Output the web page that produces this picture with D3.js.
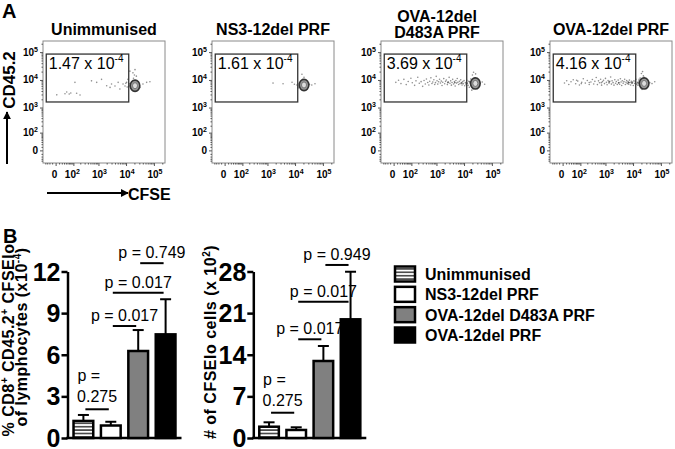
<!DOCTYPE html>
<html>
<head>
<meta charset="utf-8">
<script src="https://cdn.jsdelivr.net/npm/d3@7"></script>
<style>
  body { margin: 0; background: #fff; }
  text { font-family: "Liberation Sans", Arial, sans-serif; }
</style>
</head>
<body>
<svg id="fig" width="675" height="449"></svg>
<script>
// ---- data ----
var groups = ["Unimmunised", "NS3-12del PRF", "OVA-12del D483A PRF", "OVA-12del PRF"];
var panelTitles = [["Unimmunised"], ["NS3-12del PRF"], ["OVA-12del", "D483A PRF"], ["OVA-12del PRF"]];
var gateFreq = ["1.47", "1.61", "3.69", "4.16"];
var gateX = [-35, 12500];
var gateY = [1600, 85000];
var flowTicks = [0, 100, 1000, 10000, 100000];
var clusterCentres = [[21000, 6200], [21000, 6600], [25500, 7500], [25000, 7500]];

var eventsUnimm = [[3,2900],[35,3200],[45,3700],[62,3100],[75,3400],[140,3300],[195,2860],[118,8200],[550,9300],[860,8200],
  [1300,10500],[2000,6200],[2650,5400],[3000,7200],[4000,6100],[5200,8200],[6000,4700],[7800,7200],[9200,6100],[10500,8200],
  [11700,10500],[13800,20700],[17700,18000],[21000,23500],[23500,13700],[31500,5400],[40500,7200],[55000,8200],[72000,8600],
  [15000,5000],[17000,7000],[14000,6500],[19000,5500],[24000,8500],[28000,6000],[16000,8000],[12500,5800],[26000,4900],
  [22000,9500],[18500,11500],[20000,15000],[13000,7400],[11000,5600],[9800,7600]];
var eventsNS3 = [[1600,7700],[3700,7300],[7800,8300],[11700,6600],[40000,6600],[52000,7300],[17700,16000],[19000,10500],
  [14000,6000],[16000,7500],[26000,5600],[29000,8000],[13000,5200],[24000,9200],[33000,6900],[9500,7000],[21000,12500]];
var eventsD483A = [[6,8200],[15,9800],[25,7400],[40,10500],[55,6800],[70,8800],[95,11500],[110,7900],[140,6400],[160,9300],
  [190,12500],[220,7600],[260,8700],[300,5900],[340,9600],[380,7200],[420,10800],[470,8100],[520,6600],[560,9000],
  [620,11900],[680,7500],[730,8500],[800,10200],[860,6900],[920,8000],[980,13500],[1050,9400],[1120,7100],[1200,8600],
  [1300,10600],[1400,7800],[1500,9100],[1600,6300],[1700,8300],[1850,11200],[2000,7300],[2150,8900],[2300,10000],[2500,6800],
  [2700,8400],[2900,12400],[3100,7600],[3300,9300],[3500,6500],[3700,8100],[3900,10500],[4200,7200],[4500,8800],[4800,6100],
  [5100,9600],[5400,7700],[5700,11300],[6000,8300],[6400,6900],[6800,9000],[7200,7400],[7600,10100],[8000,8000],[8500,6600],
  [9000,8700],[9500,7300],[10000,9500],[10600,6200],[11200,8100],[11800,7000],[12500,9800],[13200,7600],[14000,6400],[14800,8900],
  [15500,5500],[16500,7800],[17500,10800],[18500,6800],[20000,15000],[22000,19000],[24000,12000],[27000,5200],[30000,9000],
  [33000,6500],[38000,7800],[45000,8500],[55000,7000],[19000,4300],[26000,16500],[21000,4800],[4600,7900],[4700,8100],
  [8300,7800],[8400,7600],[12000,7500],[12300,7700],[2600,8000],[2650,8200],[16000,8400],[16200,8600]];
var eventsOVA = [[5,7800],[12,9400],[20,6900],[30,8600],[42,10200],[58,7300],[75,9100],[90,6600],[115,8300],[135,11000],
  [165,7700],[200,9600],[240,6900],[280,8400],[320,10400],[360,7200],[400,8900],[450,12200],[500,6800],[550,9300],
  [600,7900],[660,10600],[720,6500],[780,8700],[850,9800],[920,7400],[1000,11400],[1080,8200],[1150,6700],[1250,9500],
  [1350,7700],[1450,8900],[1550,12800],[1650,7100],[1750,9300],[1900,8000],[2050,6500],[2200,10200],[2350,7600],[2500,8800],
  [2700,6900],[2900,9900],[3100,8100],[3300,7000],[3500,11000],[3700,8500],[3900,6300],[4100,9400],[4400,7600],[4700,8700],
  [5000,10600],[5300,6900],[5600,8200],[5900,9600],[6200,7400],[6600,8800],[7000,7000],[7400,9900],[7800,8100],[8200,6600],
  [8700,9000],[9200,7700],[9700,8500],[10200,6300],[10800,9300],[11400,7500],[12000,8600],[12700,10500],[13400,7100],[14200,8300],
  [15000,6500],[16000,9200],[17000,7600],[18000,11800],[19000,6800],[20000,17000],[22000,20000],[23500,14000],[27000,5300],
  [30000,9500],[34000,6600],[40000,8000],[48000,7400],[60000,8600],[21000,4600],[25000,12500],[18500,5200],[16500,10500],
  [6900,8000],[7100,8100],[6800,7900],[3000,7800],[3050,7900],[1350,8600],[1380,8400],[700,8000],[240,8100],[110,7400],
  [65,9800],[15000,7700],[15300,7900],[9000,8000],[9300,7800]];
var flowEvents = [eventsUnimm, eventsNS3, eventsD483A, eventsOVA];

var pctMean = [1.23, 0.9, 6.27, 7.47];
var pctSem = [0.43, 0.27, 1.51, 2.53];
var pctTicks = [0, 3, 6, 9, 12];
var cellMean = [1.9, 1.35, 12.95, 19.96];
var cellSem = [0.74, 0.45, 2.52, 8.0];
var cellTicks = [0, 7, 14, 21, 28];
var compPairs = [[0, 1], [1, 2], [1, 3], [2, 3]];
var pctCompP = ["0.275", "0.017", "0.017", "0.749"];
var pctCompLevel = [2.07, 8.07, 10.47, 12.6];
var cellCompP = ["0.275", "0.017", "0.017", "0.949"];
var cellCompLevel = [4.25, 16.6, 22.9, 29.1];
var barFills = ["url(#hatch)", "#fff", "#808080", "#000"];

// ---- setup ----
var svg = d3.select("#fig");
var defs = svg.append("defs");
var pat = defs.append("pattern").attr("id", "hatch")
  .attr("patternUnits", "userSpaceOnUse").attr("width", 6).attr("height", 3.4);
pat.append("rect").attr("width", 6).attr("height", 3.4).attr("fill", "#fff");
pat.append("line").attr("x1", 0).attr("x2", 6).attr("y1", 1.7).attr("y2", 1.7)
  .attr("stroke", "#000").attr("stroke-width", 1.2);
var arrow = defs.append("marker").attr("id", "arr").attr("viewBox", "0 0 10 10")
  .attr("refX", 9).attr("refY", 5).attr("markerWidth", 4).attr("markerHeight", 4).attr("orient", "auto");
arrow.append("path").attr("d", "M0,0L10,5L0,10z").attr("fill", "#000");

// ---- panel A: flow plots ----
var size = 122;
var panelX = d3.scalePoint().domain(groups).range([43, 550]);
var fx = d3.scaleSymlog().constant(30).domain([-55, 250000]).range([0, size]);
var fy = d3.scaleSymlog().constant(30).domain([-55, 250000]).range([size, 0]);
var minorTicks = [];
[100, 1000, 10000].forEach(function(b) { for (var m = 2; m < 10; m++) minorTicks.push(b * m); });
[-40, -30, -20, -10, 10, 20, 30, 40, 50, 60, 70, 80, 90, 200000].forEach(function(v) { minorTicks.push(v); });

function powText(t, v) {
  if (v === 0) { t.text("0"); return; }
  t.append("tspan").text("10");
  t.append("tspan").attr("dy", -4).attr("font-size", 7).text(Math.round(Math.log10(v)));
}

svg.append("text").attr("x", 2).attr("y", 18).attr("font-size", 20).attr("font-weight", "bold").text("A");

groups.forEach(function(name, i) {
  var g = svg.append("g").attr("transform", "translate(" + panelX(name) + ",41)");

  var title = g.append("text").attr("text-anchor", "middle").attr("font-size", 16).attr("font-weight", "bold");
  var lines = panelTitles[i];
  lines.forEach(function(l, k) {
    title.append("tspan").attr("x", size / 2 - (lines.length > 1 ? 5 : 0))
      .attr("y", lines.length > 1 ? -19 + k * 16 : -6).text(l);
  });

  g.append("rect").attr("width", size).attr("height", size).attr("fill", "none").attr("stroke", "#8a8a8a");

  [fy, fx].forEach(function(sc, a) {
    var shift = a === 0 ? null : "translate(0," + size + ")";
    var major = g.append("g").attr("transform", shift)
      .call((a === 0 ? d3.axisLeft(sc) : d3.axisBottom(sc)).tickValues(flowTicks).tickSize(3).tickFormat(""));
    var minor = g.append("g").attr("transform", shift)
      .call((a === 0 ? d3.axisLeft(sc) : d3.axisBottom(sc)).tickValues(minorTicks).tickSize(1.5).tickFormat(""));
    [major, minor].forEach(function(s) {
      s.select(".domain").remove();
      s.selectAll("line").attr("stroke", "#555");
    });
  });

  flowTicks.forEach(function(v) {
    var ty = g.append("text").attr("x", -5).attr("y", fy(v) + 3.5).attr("text-anchor", "end")
      .attr("font-size", 10).attr("font-weight", "bold");
    powText(ty, v);
    var tx = g.append("text").attr("x", fx(v) + (v === 100 ? -1 : (v === 0 ? -1 : 1))).attr("y", size + 15)
      .attr("text-anchor", "middle").attr("font-size", 10).attr("font-weight", "bold");
    powText(tx, v);
  });

  g.selectAll("circle.ev").data(flowEvents[i]).join("circle").attr("class", "ev")
    .attr("cx", function(d) { return fx(d[0]); })
    .attr("cy", function(d) { return fy(d[1]); })
    .attr("r", 0.8).attr("fill", "#444").attr("opacity", 0.6);

  var c = clusterCentres[i];
  g.append("ellipse").attr("cx", fx(c[0])).attr("cy", fy(c[1])).attr("rx", 4.8).attr("ry", 5.6)
    .attr("fill", "#999").attr("stroke", "#333").attr("stroke-width", 1.6);
  g.append("ellipse").attr("cx", fx(c[0])).attr("cy", fy(c[1])).attr("rx", 2.5).attr("ry", 3)
    .attr("fill", "#ddd").attr("stroke", "#666").attr("stroke-width", 0.8);

  g.append("rect").attr("x", fx(gateX[0])).attr("y", fy(gateY[1]))
    .attr("width", fx(gateX[1]) - fx(gateX[0])).attr("height", fy(gateY[0]) - fy(gateY[1]))
    .attr("fill", "none").attr("stroke", "#333").attr("stroke-width", 1.3);
  var gl = g.append("text").attr("x", fx(gateX[0]) + 2.5).attr("y", fy(gateY[1]) + 15).attr("font-size", 16);
  gl.append("tspan").text(gateFreq[i] + " x 10");
  gl.append("tspan").attr("dy", -7).attr("font-size", 10).text("-4");
});

// flow axis titles
svg.append("text").attr("transform", "translate(14.5,80) rotate(-90)").attr("text-anchor", "middle")
  .attr("font-size", 17).attr("font-weight", "bold").text("CD45.2");
svg.append("line").attr("x1", 7).attr("x2", 7).attr("y1", 164).attr("y2", 112)
  .attr("stroke", "#000").attr("stroke-width", 2).attr("marker-end", "url(#arr)");
svg.append("line").attr("x1", 47).attr("x2", 128).attr("y1", 193).attr("y2", 193)
  .attr("stroke", "#000").attr("stroke-width", 2).attr("marker-end", "url(#arr)");
svg.append("text").attr("x", 128).attr("y", 199.5).attr("font-size", 16).attr("font-weight", "bold").text("CFSE");

// ---- panel B: bar charts ----
svg.append("text").attr("x", 3).attr("y", 243).attr("font-size", 20).attr("font-weight", "bold").text("B");

function barChart(left, width, means, sems, ticks, compP, compLevel) {
  var y = d3.scaleLinear().domain([0, ticks[ticks.length - 1]]).range([438, 271.5]);
  var x = d3.scaleBand().domain(groups).range([0, width]).paddingInner(0.28).paddingOuter(0.22);
  var g = svg.append("g").attr("transform", "translate(" + left + ",0)");
  var cx = function(i) { return x(groups[i]) + x.bandwidth() / 2; };

  var ax = g.append("g").call(d3.axisLeft(y).tickValues(ticks).tickSize(6).tickPadding(1).tickSizeOuter(0));
  ax.attr("font-size", 25).attr("font-weight", "bold").attr("font-family", null);
  ax.selectAll("path,line").attr("stroke-width", 2.5);
  ax.selectAll("text").attr("dy", "0.34em");
  g.append("line").attr("x1", -1.25).attr("x2", width).attr("y1", y(0)).attr("y2", y(0))
    .attr("stroke", "#000").attr("stroke-width", 2.5);

  // error bars (upper only)
  var eb = g.selectAll("g.err").data(means).join("g").attr("class", "err");
  eb.append("line").attr("x1", function(d, i) { return cx(i); }).attr("x2", function(d, i) { return cx(i); })
    .attr("y1", function(d) { return y(d); }).attr("y2", function(d, i) { return y(d + sems[i]); })
    .attr("stroke", "#000").attr("stroke-width", 2);
  eb.append("line").attr("x1", function(d, i) { return cx(i) - 5.5; }).attr("x2", function(d, i) { return cx(i) + 5.5; })
    .attr("y1", function(d, i) { return y(d + sems[i]); }).attr("y2", function(d, i) { return y(d + sems[i]); })
    .attr("stroke", "#000").attr("stroke-width", 2);

  g.selectAll("rect.bar").data(means).join("rect").attr("class", "bar")
    .attr("x", function(d, i) { return x(groups[i]); })
    .attr("y", function(d) { return y(d); })
    .attr("width", x.bandwidth())
    .attr("height", function(d) { return y(0) - y(d); })
    .attr("fill", function(d, i) { return barFills[i]; })
    .attr("stroke", "#000").attr("stroke-width", 2.5);

  compPairs.forEach(function(p, k) {
    var x1 = cx(p[0]), x2 = cx(p[1]), ly = y(compLevel[k]);
    g.append("line").attr("x1", x1 + 2).attr("x2", x2 - 2).attr("y1", ly).attr("y2", ly)
      .attr("stroke", "#000").attr("stroke-width", 2);
    if (k === 0) {
      g.append("text").attr("x", x1 - 6).attr("y", ly - 28).attr("font-size", 16).text("p =");
      g.append("text").attr("x", (x1 + x2) / 2).attr("y", ly - 7).attr("text-anchor", "middle")
        .attr("font-size", 16).text(compP[k]);
    } else {
      g.append("text").attr("x", (x1 + x2) / 2).attr("y", ly - 5).attr("text-anchor", "middle")
        .attr("font-size", 16).text("p = " + compP[k]);
    }
  });
  return g;
}

barChart(67.5, 114, pctMean, pctSem, pctTicks, pctCompP, pctCompLevel);
barChart(253.3, 113, cellMean, cellSem, cellTicks, cellCompP, cellCompLevel);

// y titles (rotated, with superscripts)
function yTitle(x, y, parts) {
  var t = svg.append("text").attr("transform", "translate(" + x + "," + y + ") rotate(-90)")
    .attr("text-anchor", "middle").attr("font-size", 16).attr("font-weight", "bold")
    .attr("letter-spacing", 0.5);
  parts.forEach(function(p, k) {
    var dy = p[1] ? -6 : (k > 0 && parts[k - 1][1] ? 6 : 0);
    t.append("tspan").attr("dy", dy).attr("font-size", p[1] ? 10 : null).text(p[0]);
  });
}
yTitle(14, 340, [["% CD8"], ["+", 1], [" CD45.2"], ["+", 1], [" CFSElo"]]);
yTitle(26.5, 337, [["of lymphocytes (x10"], ["-4", 1], [")"]]);
yTitle(216, 342, [["# of CFSElo cells (x 10"], ["2", 1], [")"]]);

// legend
var ly = d3.scalePoint().domain(groups).range([274, 335]);
var leg = svg.selectAll("g.leg").data(groups).join("g").attr("class", "leg")
  .attr("transform", function(d) { return "translate(395," + ly(d) + ")"; });
leg.append("rect").attr("x", 0).attr("y", -7.5).attr("width", 20).attr("height", 15)
  .attr("fill", function(d, i) { return barFills[i]; }).attr("stroke", "#000").attr("stroke-width", 2.5);
leg.append("text").attr("x", 30).attr("y", 6).attr("font-size", 16).attr("font-weight", "bold")
  .text(function(d) { return d; });
</script>
</body>
</html>
